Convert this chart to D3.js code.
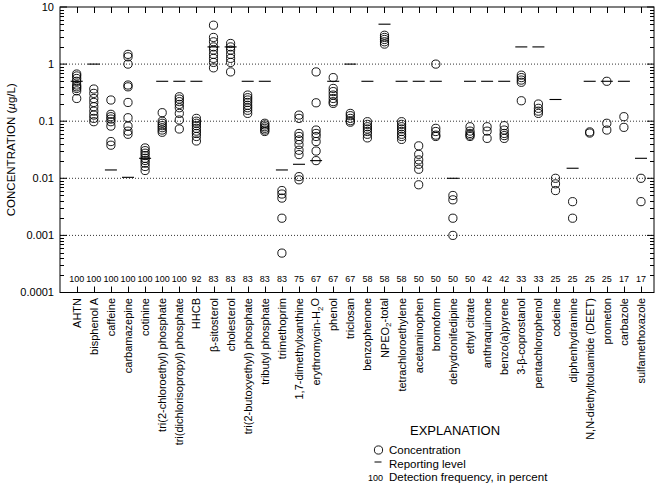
<!DOCTYPE html>
<html><head><meta charset="utf-8">
<script src="https://cdn.jsdelivr.net/npm/d3@7"></script>
<style>
html,body{margin:0;padding:0;background:#fff;}
svg{display:block;font-family:"Liberation Sans",Arial,Helvetica,sans-serif;}
</style></head>
<body>
<svg id="chart" width="659" height="487"></svg>
<script>
const categories = ["AHTN","bisphenol A","caffeine","carbamazepine","cotinine",
 "tri(2-chloroethyl) phosphate","tri(dichlorisopropyl) phosphate","HHCB","β-sitosterol","cholesterol",
 "tri(2-butoxyethyl) phosphate","tributyl phosphate","trimethoprim","1,7-dimethylxanthine","erythromycin-H|2|O",
 "phenol","triclosan","benzophenone","NPEO|2|-total","tetrachloroethylene",
 "acetaminophen","bromoform","dehydronifedipine","ethyl citrate","anthraquinone",
 "benzo(a)pyrene","3-β-coprostanol","pentachlorophenol","codeine","diphenhydramine",
 "N,N-diethyltoluamide (DEET)","prometon","carbazole","sulfamethoxazole"];

const detectionFrequency = [100,100,100,100,100,100,100,92,83,83,83,83,83,75,67,67,67,58,58,58,50,50,50,50,42,42,33,33,25,25,25,25,17,17];

const reportingLevels = [0.5,1,0.014,0.0104,0.0224,0.5,0.5,0.5,2,2,
 0.5,0.5,0.014,0.0176,0.0204,0.5,1,0.5,5,0.5,
 0.5,0.5,0.01,0.5,0.5,0.5,2,2,0.24,0.015,
 0.5,0.5,0.5,0.0224];

const concentrations = [
 [0.67,0.62,0.56,0.5,0.43,0.4,0.375,0.34,0.25],
 [0.366,0.307,0.25,0.213,0.179,0.15,0.128,0.112,0.098],
 [0.235,0.132,0.12,0.109,0.098,0.082,0.044,0.038],
 [1.48,1.34,1.0,0.43,0.4,0.213,0.115,0.082,0.067,0.059],
 [0.034,0.0305,0.0275,0.025,0.0224,0.0205,0.0184,0.0161,0.0137],
 [0.141,0.1,0.092,0.0835,0.077,0.07,0.064],
 [0.268,0.244,0.22,0.197,0.172,0.137,0.105,0.073],
 [0.112,0.1,0.092,0.0835,0.075,0.067,0.061,0.054,0.045],
 [4.8,2.93,2.46,2.0,1.76,1.48,1.26,1.07,0.86],
 [2.3,2.0,1.76,1.48,1.26,1.07,0.73],
 [0.287,0.258,0.235,0.213,0.19,0.172,0.155,0.137],
 [0.092,0.086,0.08,0.075,0.07,0.066],
 [0.0061,0.0053,0.0045,0.002,0.00049],
 [0.128,0.112,0.061,0.054,0.047,0.039,0.031,0.026,0.0107,0.0094],
 [0.73,0.21,0.07,0.061,0.054,0.044,0.03,0.0204],
 [0.58,0.375,0.33,0.287,0.25,0.22,0.205],
 [0.137,0.125,0.112,0.102,0.096],
 [0.098,0.088,0.08,0.073,0.066,0.059,0.051],
 [3.2,2.93,2.7,2.46,2.24],
 [0.098,0.088,0.08,0.073,0.066,0.059,0.054,0.048],
 [0.037,0.0263,0.021,0.0176,0.0144,0.0077],
 [1.0,0.075,0.066,0.057,0.054],
 [0.005,0.0042,0.002,0.001],
 [0.08,0.067,0.061,0.057,0.054],
 [0.08,0.067,0.05],
 [0.0835,0.07,0.061,0.056,0.05],
 [0.64,0.58,0.525,0.48,0.228],
 [0.2,0.168,0.15,0.137],
 [0.01,0.008,0.0061],
 [0.0039,0.002],
 [0.065,0.062],
 [0.5,0.092,0.07],
 [0.12,0.078],
 [0.01,0.0039]
];

const yTickValues = [10,1,0.1,0.01,0.001,0.0001];
const yTickLabels = ["10","1","0.1","0.01","0.001","0.0001"];
const gridValues = [1,0.1,0.01,0.001];

const svg = d3.select("#chart");
const L = 60, R = 654, T = 7, B = 292.5;

const x = d3.scalePoint().domain(categories).range([76.7, 641]);
const y = d3.scaleLog().domain([0.0001, 10]).range([B, T]);

// grid
svg.append("g").selectAll("line").data(gridValues).join("line")
  .attr("x1", L).attr("x2", R)
  .attr("y1", d => y(d)).attr("y2", d => y(d))
  .attr("stroke", "#333").attr("stroke-width", 1).attr("stroke-dasharray", "1,2");

// minor ticks
const minors = [];
for (let e = -4; e < 1; e++) for (let m = 2; m <= 9; m++) minors.push(m * Math.pow(10, e));
const tickG = svg.append("g").attr("stroke", "#000").attr("stroke-width", 1);
tickG.selectAll(".mnl").data(minors).join("line").attr("class","mnl")
  .attr("x1", L).attr("x2", L + 4).attr("y1", d => Math.round(y(d)) + 0.5).attr("y2", d => Math.round(y(d)) + 0.5);
tickG.selectAll(".mnr").data(minors).join("line").attr("class","mnr")
  .attr("x1", R).attr("x2", R - 4).attr("y1", d => Math.round(y(d)) + 0.5).attr("y2", d => Math.round(y(d)) + 0.5);
tickG.selectAll(".mjl").data(yTickValues).join("line").attr("class","mjl")
  .attr("x1", L).attr("x2", L + 7).attr("y1", d => y(d)).attr("y2", d => y(d));
tickG.selectAll(".mjr").data(yTickValues).join("line").attr("class","mjr")
  .attr("x1", R).attr("x2", R - 7).attr("y1", d => y(d)).attr("y2", d => y(d));
tickG.selectAll(".tt").data(categories).join("line").attr("class","tt")
  .attr("x1", d => Math.round(x(d)) + 0.5).attr("x2", d => Math.round(x(d)) + 0.5).attr("y1", T).attr("y2", T + 6);
tickG.selectAll(".bt").data(categories).join("line").attr("class","bt")
  .attr("x1", d => Math.round(x(d)) + 0.5).attr("x2", d => Math.round(x(d)) + 0.5).attr("y1", B).attr("y2", B - 6);

// frame
svg.append("rect").attr("x", L).attr("y", T).attr("width", R - L).attr("height", B - T)
  .attr("fill", "none").attr("stroke", "#000").attr("stroke-width", 1);

// y labels
svg.append("g").selectAll("text").data(yTickValues).join("text")
  .attr("x", 54).attr("y", d => y(d)).attr("dy", "0.36em")
  .attr("text-anchor", "end").attr("font-size", 11).text((d, i) => yTickLabels[i]);

// y title
const yt = svg.append("text").attr("transform", `translate(14.5,${(T + B) / 2}) rotate(-90)`)
  .attr("text-anchor", "middle").attr("font-size", 11.5);
yt.append("tspan").text("CONCENTRATION (");
yt.append("tspan").attr("font-style", "italic").text("µ");
yt.append("tspan").text("g/L)");

// detection frequency
svg.append("g").selectAll("text").data(categories).join("text")
  .attr("x", d => x(d)).attr("y", 282).attr("text-anchor", "middle").attr("font-size", 9)
  .text((d, i) => detectionFrequency[i]);

// category labels
function addLabel(sel, label) {
  const parts = label.split("|");
  parts.forEach((p, i) => {
    if (i % 2 === 1) {
      sel.append("tspan").attr("font-size", 8).attr("dy", "0.35em").text(p);
    } else {
      const t = sel.append("tspan").text(p);
      if (i > 0) t.attr("dy", "-0.32em");
    }
  });
}
svg.append("g").selectAll("text").data(categories).join("text")
  .attr("transform", d => `translate(${x(d) + 4},298) rotate(-90)`)
  .attr("text-anchor", "end").attr("font-size", 11)
  .each(function(d) { addLabel(d3.select(this), d); });

// reporting levels
svg.append("g").selectAll("line").data(categories).join("line")
  .attr("x1", d => x(d) - 6).attr("x2", d => x(d) + 6)
  .attr("y1", (d, i) => y(reportingLevels[i])).attr("y2", (d, i) => y(reportingLevels[i]))
  .attr("stroke", "#000").attr("stroke-width", 1.1);

// concentration points
const pts = [];
categories.forEach((c, i) => concentrations[i].forEach(v => pts.push({c, v})));
svg.append("g").selectAll("circle").data(pts).join("circle")
  .attr("cx", d => x(d.c)).attr("cy", d => y(d.v)).attr("r", 4.1)
  .attr("fill", "none").attr("stroke", "#000").attr("stroke-width", 0.9);

// legend
svg.append("text").attr("x", 410).attr("y", 435).attr("font-size", 13).text("EXPLANATION");
svg.append("circle").attr("cx", 378.5).attr("cy", 450).attr("r", 4.1)
  .attr("fill", "none").attr("stroke", "#000").attr("stroke-width", 0.9);
svg.append("text").attr("x", 389).attr("y", 454).attr("font-size", 11.5).text("Concentration");
svg.append("line").attr("x1", 374.5).attr("x2", 381.5).attr("y1", 462).attr("y2", 462)
  .attr("stroke", "#000").attr("stroke-width", 1);
svg.append("text").attr("x", 389).attr("y", 467.5).attr("font-size", 11.5).text("Reporting level");
svg.append("text").attr("x", 368).attr("y", 480.5).attr("font-size", 9).text("100");
svg.append("text").attr("x", 389).attr("y", 481).attr("font-size", 11.5).text("Detection frequency, in percent");
</script>
</body></html>
